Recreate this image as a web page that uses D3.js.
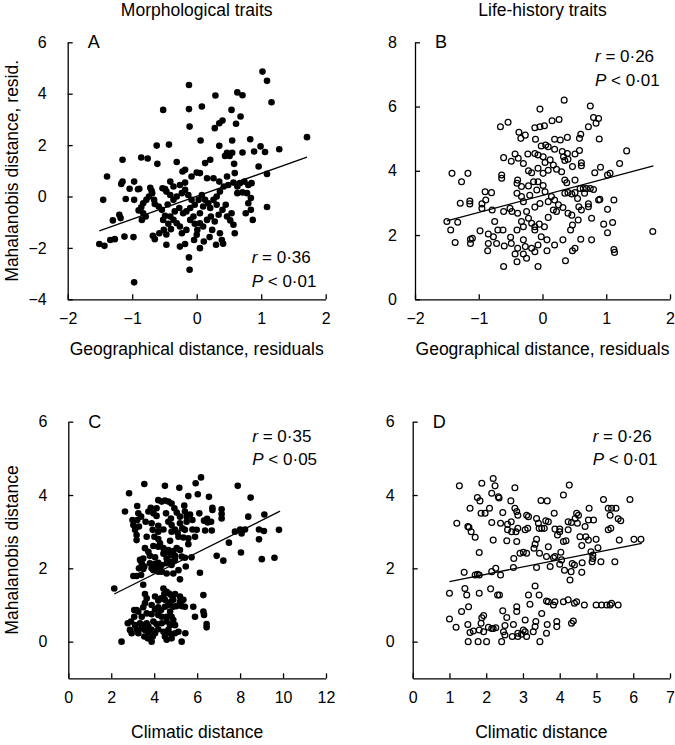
<!DOCTYPE html>
<html><head><meta charset="utf-8">
<script src="https://cdn.jsdelivr.net/npm/d3@7"></script>
<style>
body{margin:0;background:#fff}
svg text{font-family:"Liberation Sans",Arial,Helvetica,sans-serif;fill:#000}
</style>
</head><body>
<svg id="chart" width="675" height="745"></svg>
<script>
// ---------- DATA ----------
const columnTitles = ["Morphological traits", "Life-history traits"];
const panelLetters = ["A", "B", "C", "D"];
const xTitles = ["Geographical distance, residuals", "Geographical distance, residuals", "Climatic distance", "Climatic distance"];
const yTitles = ["Mahalanobis distance, resid.", "", "Mahalanobis distance", ""];
const statR = ["0·36", "0·26", "0·35", "0·26"];
const statP = ["0·01", "0·01", "0·05", "0·01"];

const xTicksA = [-2, -1, 0, 1, 2];
const yTicksA = [-4, -2, 0, 2, 4, 6];
const xTicksB = [-2, -1, 0, 1, 2];
const yTicksB = [0, 2, 4, 6, 8];
const xTicksC = [0, 2, 4, 6, 8, 10, 12];
const yTicksC = [0, 2, 4, 6];
const xTicksD = [0, 1, 2, 3, 4, 5, 6, 7];
const yTicksD = [0, 2, 4, 6];

const lineA = [[-1.51, -1.34], [1.71, 1.53]];
const lineB = [[-1.50, 2.44], [1.74, 4.15]];
const lineC = [[2.14, 1.30], [9.86, 3.56]];
const lineD = [[1.00, 1.64], [6.23, 2.68]];

const pointsA = [
[-0.12,4.34],[1.02,4.86],[1.09,4.50],[1.16,3.67],[0.29,3.93],[0.63,4.05],[0.71,3.94],[-0.52,3.37],[-0.12,3.40],[0.08,3.50],
[0.54,3.37],[-0.11,2.72],[0.68,3.11],[0.28,2.66],[0.35,2.85],[0.40,2.96],[0.61,2.83],[1.71,2.31],[0.83,2.23],[0.55,2.18],
[0.06,2.18],[0.35,1.97],[-0.43,2.02],[-0.62,1.98],[0.99,1.95],[0.55,1.70],[0.47,1.70],[0.71,1.71],[0.89,1.75],[1.06,1.73],[1.28,1.84],
[-0.86,1.52],[-0.76,1.48],[-1.15,1.43],[-0.61,1.27],[-0.31,1.34],[0.21,1.43],[0.13,1.30],[0.44,1.58],[0.51,1.58],[0.58,1.27],
[0.96,1.17],[-1.39,0.78],[-1.15,0.58],[-1.17,0.49],[-0.97,0.58],[1.09,0.88],[-0.18,1.04],
[-1.51,-1.85],[-1.43,-1.92],[-1.34,-1.69],[-1.27,-1.66],[-1.12,-1.56],[-0.98,-1.58],
[-1.45,-0.13],[-1.30,-0.93],[-1.20,-0.71],[-1.18,-0.84],[-1.10,-0.10],[-0.97,-0.13],[-1.04,0.30],[-0.89,0.30],
[-0.90,-0.54],[-0.86,-0.42],[-0.83,-0.26],[-0.78,-0.13],[-0.74,0],[-0.69,0.13],[-0.66,-0.13],[-0.65,-0.29],[-0.85,-0.91],[-0.79,-0.78],[-0.83,-0.65],
[-0.68,-1.53],[-0.65,-1.66],[-0.58,-1.43],[-0.51,-1.30],[-0.47,-1.48],[-0.52,-0.91],[-0.49,-0.75],[-0.53,0.32],[-0.49,0.29],[-0.59,-0.39],[-0.54,-0.52],[-0.45,-0.31],
[-0.47,-1.88],[-0.72,0.34],[-0.70,0.22],[-0.91,0.28],
[-0.26,-1.95],[-0.18,-1.85],[-0.12,-2.37],[-0.11,-2.85],[0.05,-2.01],[-0.04,-1.69],[0,-1.49],[0.11,-1.75],[0.20,-1.58],[0.30,-1.88],[0.39,-1.69],[0.41,-1.84],[0.24,-1.30],[0.36,-1.43],
[-0.36,-0.91],[-0.31,-1.04],[-0.26,-1.17],[-0.23,-1.43],[-0.16,-1.30],[-0.10,-0.91],[-0.05,-0.78],[-0.03,-1.06],[0.01,-1.30],[0.05,-1.04],[0.10,-1.17],[0.16,-0.91],[0.22,-0.78],[0.28,-0.97],[0.34,-0.71],[0.40,-0.52],[0.47,-0.78],[0.52,-0.93],[0.57,-1.10],[0.59,-1.43],[0.54,-0.65],[0.45,-0.32],
[-0.36,-0.13],[-0.31,0],[-0.23,0.13],[-0.18,0.26],[-0.13,0.06],[-0.08,-0.13],[-0.03,-0.32],[0.03,-0.13],[0.08,0.06],[0.13,-0.13],[0.18,-0.26],[0.26,-0.13],[0.31,0],[0.36,0.19],[0.42,0.39],[0.49,0.45],[0.57,0.54],[0.63,0.39],[0.67,0.52],[0.74,0.58],[0.80,0.45],[0.85,0.52],[0.78,0.13],[0.84,-0.06],[0.80,-0.26],[0.76,-0.65],[0.84,-0.52],[0.87,-0.91],[1.09,-0.41],[0.63,0.13],[0.71,0.16],
[0.59,0.91],[0.47,0.78],[0.35,0.58],[0.26,0.71],[0.16,0.71],[0.05,0.91],[0,0.93],[-0.08,0.78],[-0.18,0.54],[-0.26,0.45],[-0.41,0.58],[-0.36,0.39],[-0.41,0.06],[-0.47,0.19],[-0.22,0.97],
[-0.16,-0.58],[-0.10,-0.45],[-0.21,-0.65],[-0.27,-0.45],[-0.34,-0.58],[-0.41,-0.78],[-0.44,-1.06],[-0.40,-1.27],[0.05,-0.65],[0.10,-0.39],[0.21,-0.45],[0.31,-0.32],
[-0.97,-3.34]
];

const pointsB = [
[0.34,6.20],[-0.04,5.92],[0.75,6.02],[-0.54,5.51],[-0.66,5.37],[-0.12,5.34],[-0.04,5.37],[0.03,5.40],[0.15,5.56],[0.26,5.60],
[0.80,5.66],[0.88,5.63],[0.84,5.48],[0.72,5.37],[-0.37,5.20],[-0.27,5.11],[-0.34,5.01],[-0.11,4.98],[0.19,4.98],[0.28,4.96],
[0.39,5.04],[0.60,5.14],[0.58,5.01],[0.89,4.99],[-0.02,4.77],[0.05,4.80],[0.09,4.75],[0.19,4.67],[0.31,4.60],[0.39,4.54],
[0.51,4.52],[0.58,4.63],[1.32,4.62],[1.21,4.23],[-0.43,4.52],[-0.23,4.52],[-0.49,4.30],[-0.38,4.39],[-0.30,4.23],[-0.61,4.41],
[-0.12,4.54],[-0.07,4.49],[0.01,4.44],[0.04,4.26],[0.12,4.34],[0.17,4.18],[0.22,4.05],[0.33,4.44],[0.35,4.32],[0.40,4.36],
[0.47,4.13],[0.61,4.25],[0.61,4.16],[0.91,4.11],[-1.42,3.92],[-1.17,3.92],[-1.27,3.66],[-0.64,3.87],[-0.64,3.77],[-0.22,4.00],
[-0.17,3.94],[-0.07,4.08],[0.01,3.92],[0.09,4.02],[0.30,3.97],[0.35,3.71],[0.38,3.63],[0.51,3.71],[0.82,3.94],[1.02,3.87],
[1.06,3.92],[-0.39,3.71],[-0.40,3.61],[-0.33,3.51],[-0.22,3.53],[-0.14,3.66],[-0.07,3.66],[0.01,3.54],[-0.09,3.40],[0.04,3.35],
[-0.40,3.30],[-0.33,3.20],[-0.30,3.04],[-0.90,3.35],[-0.80,3.32],[-1.14,3.06],[-1.14,2.97],[-1.29,2.99],[-0.95,2.97],[-0.95,2.83],
[-0.89,3.09],[-0.79,2.78],[-0.51,2.83],[-0.48,2.73],[-0.39,2.68],[-0.25,2.73],[-0.20,3.24],[-0.12,2.87],[-0.04,2.98],[0.09,3.04],
[0.14,3.20],[0.19,3.09],[0.25,2.94],[0.32,2.86],[0.17,2.78],[0.22,2.73],[0.35,3.30],[0.40,3.32],[0.46,3.28],[0.51,3.32],
[0.55,3.14],[0.64,3.45],[0.69,3.45],[0.75,3.45],[0.80,3.42],[0.59,3.45],[0.66,3.30],[0.72,2.97],[0.72,2.88],[0.88,3.09],
[0.90,3.11],[1.12,3.09],[1.02,2.80],[0.57,2.88],[0.61,2.78],[0.46,2.62],[0.56,2.47],[0.77,2.52],[0.40,2.68],[-1.50,2.42],
[-1.33,2.40],[-1.44,2.16],[-0.61,2.73],[-0.75,2.42],[-0.70,2.16],[-0.62,2.16],[-0.98,2.13],[-0.85,2.03],[-0.77,1.95],[-0.72,1.74],
[-0.85,1.74],[-0.86,1.51],[-0.60,1.66],[-0.50,1.93],[-0.49,1.74],[-0.40,2.16],[-0.33,2.42],[-0.30,2.26],[-0.22,2.52],[-0.17,2.37],
[-0.12,2.26],[-0.05,2.34],[0.03,2.26],[0.09,2.55],[-0.02,1.95],[0.07,1.85],[-0.12,2.16],[-0.30,1.85],[-0.27,1.64],[-0.39,1.59],
[-0.17,1.59],[-0.12,1.48],[-0.07,1.69],[-0.30,1.41],[-0.43,1.41],[-0.25,1.28],[-0.40,1.17],[-0.07,1.02],[-0.61,1.02],[0.07,1.51],
[0.19,1.69],[0.32,1.85],[0.36,1.20],[0.47,1.51],[0.51,1.59],[0.44,2.16],[0.47,2.31],[0.60,1.87],[0.77,1.85],[0.96,2.34],
[1.10,2.39],[1.02,2.07],[1.73,2.11],[1.12,1.55],[1.13,1.46],[-1.13,1.87],[-1.13,1.74],[-1.10,1.90],[-1.37,1.77]
];

const pointsC = [
[2.14,1.45],[2.48,0],[2.83,4.05],[2.64,3.55],
[6.18,4.48],[5.93,4.32],[3.54,4.30],[4.50,4.25],[5.17,4.20],[5.59,3.97],[7.89,4.25],[8.49,3.93],[6.55,3.95],[6.03,4.02],
[4.19,3.86],[4.35,3.82],[4.50,3.85],[4.66,3.82],[4.81,3.77],[3.21,3.70],[3.84,3.65],[4.11,3.64],[4.94,3.64],[5.40,3.71],
[6.71,3.65],[6.71,3.59],[7.14,3.61],[7.14,3.48],[7.14,3.36],[3.26,3.50],[3.39,3.41],[2.99,3.32],[3.21,3.32],[3.03,3.18],
[3.29,3.14],[3.73,3.55],[3.96,3.50],[4.11,3.43],[4.55,3.50],[4.78,3.36],[5.05,3.52],[5.20,3.41],[5.43,3.55],[5.51,3.41],
[5.51,3.27],[5.67,3.47],[5.78,3.32],[6.10,3.50],[6.32,3.30],[6.46,3.35],[6.49,3.25],[6.65,3.27],[6.68,3.03],[8.38,3.41],
[9.13,3.47],[5.98,3.05],[6.37,3.03],[5.43,3.05],[5.78,3.06],[3.60,3.27],[3.88,3.23],[4.19,3.16],[4.66,3.27],[4.81,3.18],
[5.20,3.23],[5.31,3.09],[4.97,3.06],[4.81,3.00],[3.93,3.05],[4.19,3.00],[4.43,3.06],[5.09,2.97],[5.13,2.86],[5.36,2.84],
[5.59,2.82],[5.90,2.86],[7.76,3.00],[8.00,3.06],[8.23,3.06],[8.07,2.95],[8.88,3.06],[9.11,3.02],[9.81,3.05],[8.88,2.79],
[7.48,2.70],[3.11,3.05],[3.18,2.91],[3.18,2.77],[4.01,2.86],[4.19,2.80],[3.65,2.86],[4.27,2.68],[4.74,2.75],[5.59,2.66],
[3.57,2.55],[3.73,2.45],[3.96,2.61],[4.19,2.59],[4.43,2.55],[4.66,2.50],[4.66,2.43],[4.89,2.47],[5.05,2.55],[5.20,2.50],
[5.28,2.32],[5.43,2.29],[5.74,2.30],[6.91,2.34],[7.22,2.21],[8.04,2.43],[9.01,2.25],[9.60,2.29],[3.49,2.27],[3.34,2.23],
[3.80,2.34],[4.04,2.30],[4.43,2.40],[4.58,2.27],[4.81,2.36],[4.97,2.34],[4.19,2.15],[4.35,2.09],[4.58,2.14],[4.74,2.18],
[3.42,2.14],[3.54,2.05],[3.80,2.14],[4.01,2.12],[4.11,2.05],[4.27,2.00],[3.29,2.00],[3.49,1.98],[4.81,2.09],[4.97,2.23],
[5.47,2.05],[6.13,1.88],[3.39,1.82],[3.03,1.79],[3.18,1.79],[3.96,1.95],[4.19,1.91],[3.88,2.00],[4.35,1.91],[4.58,1.86],
[4.89,1.86],[5.13,1.95],[5.20,1.70],[3.49,1.55],
[3.57,1.30],[3.65,1.18],[4.43,1.45],[4.58,1.36],[4.47,1.30],[4.69,1.31],[4.81,1.25],[4.97,1.30],[4.32,1.18],[4.50,1.14],
[4.04,1.23],[4.19,1.12],[4.78,1.09],[4.89,1.14],[5.20,1.23],[5.36,1.14],[5.20,1.09],[6.29,1.27],[5.82,0.95],[3.57,1.05],
[3.49,0.94],[3.88,1.00],[4.04,0.88],[4.19,0.94],[4.32,0.86],[4.50,0.95],[4.66,1.00],[4.89,0.95],[5.05,0.97],[5.28,0.97],
[5.43,0.95],[4.74,0.82],[4.81,0.68],[6.29,0.82],[6.32,0.73],[5.90,0.68],[3.07,0.86],[3.18,0.86],[3.26,0.82],[3.07,0.68],
[3.42,0.68],[3.65,0.77],[3.88,0.75],[4.19,0.73],[4.35,0.68],[4.58,0.68],[2.77,0.50],[2.92,0.55],[3.11,0.45],[3.34,0.50],
[3.49,0.45],[3.65,0.50],[3.73,0.41],[3.96,0.55],[4.11,0.48],[4.35,0.50],[4.58,0.55],[4.74,0.45],[4.89,0.59],[4.97,0.45],
[6.44,0.48],[6.44,0.39],[2.87,0.32],[2.95,0.23],[3.18,0.34],[3.26,0.23],[3.42,0.36],[3.57,0.32],[3.73,0.25],[3.88,0.32],
[4.04,0.23],[4.19,0.34],[4.43,0.27],[4.58,0.23],[4.66,0.32],[4.81,0.21],[4.97,0.23],[5.13,0.27],[5.45,0.23],[3.54,0.14],
[3.70,0.09],[3.93,0.14],[3.88,0.00],[4.50,0.14],[4.58,0.05],[4.81,0.09],[5.28,0.00]
];

const pointsD = [
[1.00,1.32],[1.00,0.62],[1.20,3.23],[1.18,0.39],[1.27,4.25],[1.33,0.82],[1.40,1.89],[1.42,1.45],[1.47,1.27],[1.50,3.14],
[1.53,3.12],[1.50,0.47],[1.52,0.95],[1.51,0],[1.56,0.25],[1.65,0.29],[1.56,3.64],[1.59,3.00],[1.70,2.85],[1.70,1.82],
[1.76,1.84],[1.81,1.82],[1.76,3.93],[1.83,3.84],[1.81,2.43],[1.81,1.32],[1.88,4.32],[1.86,3.50],[1.97,3.50],[1.81,0.32],
[1.86,0.50],[1.88,0.65],[1.93,0.71],[1.93,0.27],[1.78,0],[2.01,0],[2.06,0.39],[2.15,0.36],[2.19,0.36],[2.26,0.38],
[2.09,3.64],[2.15,4.05],[2.19,4.45],[2.24,4.25],[2.12,1.44],[2.15,1.91],[2.15,3.25],[2.19,2.77],[2.26,2.00],[2.31,1.27],
[2.36,1.27],[2.33,3.95],[2.35,3.92],[2.39,1.82],[2.39,3.23],[2.42,0],[2.45,3.52],[2.45,0.84],[2.47,0.27],[2.51,0.18],
[2.51,0.44],[2.56,0.66],[2.56,2.75],[2.58,3.20],[2.58,3.05],[2.67,3.84],[2.68,3.27],[2.69,3.00],[2.74,0.47],[2.71,0.14],
[2.74,2.02],[2.75,2.27],[2.78,4.20],[2.78,3.64],[2.83,3.55],[2.86,3.45],[2.81,3.00],[2.86,3.09],[2.83,2.73],[2.83,0.95],
[2.83,0.82],[2.86,0.23],[2.86,0.14],[2.92,2.41],[2.96,0.20],[3.01,0.32],[3.06,0.27],[3.01,2.44],[3.10,2.41],[3.06,0.59],
[3.10,3.45],[3.15,3.41],[3.06,3.05],[3.13,3.09],[3.15,1.27],[3.19,1.02],[3.10,0.14],[3.28,0.27],[3.33,0.41],[3.30,2.55],
[3.33,2.66],[3.33,1.52],[3.37,3.36],[3.42,3.23],[3.44,3.09],[3.35,0.55],[3.37,2.02],[3.37,2.79],[3.44,1.27],[3.45,2.41],
[3.46,0],[3.51,0.77],[3.49,3.85],[3.66,3.84],[3.51,3.09],[3.58,3.09],[3.62,3.30],[3.69,3.27],[3.64,2.32],[3.64,1.11],
[3.69,1.09],[3.64,0.23],[3.66,0.47],[3.69,2.59],[3.74,2.05],[3.83,1.00],[3.83,2.29],[3.87,2.32],[3.87,1.09],[3.85,3.50],
[3.87,3.07],[3.92,0.55],[3.92,0.41],[3.94,2.91],[4.00,3.07],[4.00,3.00],[4.00,2.11],[4.05,2.23],[4.03,2.44],[4.10,4.00],
[4.10,1.09],[4.10,2.73],[4.13,1.95],[4.17,2.75],[4.23,1.14],[4.23,3.27],[4.23,3.05],[4.26,4.27],[4.28,1.68],[4.31,1.91],
[4.32,3.25],[4.32,0.50],[4.34,2.13],[4.40,2.09],[4.37,0.56],[4.40,1.05],[4.46,1.09],[4.42,3.36],[4.46,3.50],[4.51,3.45],
[4.48,3.23],[4.55,2.86],[4.60,2.62],[4.60,1.89],[4.61,2.15],[4.67,1.00],[4.69,3.14],[4.71,2.86],[4.78,3.32],[4.92,3.32],
[4.80,3.64],[4.78,2.77],[4.85,2.45],[4.90,2.36],[4.90,2.27],[4.88,2.18],[4.99,1.00],[5.14,1.00],[5.28,1.00],[4.99,2.79],
[5.04,2.56],[5.12,2.18],[5.19,3.88],[5.32,3.64],[5.41,3.64],[5.32,3.05],[5.39,3.09],[5.37,3.45],[5.37,1.00],[5.41,1.05],
[5.50,2.18],[5.53,3.64],[5.59,1.00],[5.59,3.35],[5.66,3.30],[5.62,2.77],[5.91,3.88],[6.02,2.79],[6.21,2.79]
];

// ---------- LAYOUT ----------
const svg = d3.select("#chart");
const FONT = "'Liberation Sans', Arial, Helvetica, sans-serif";
const fmt = d => d < 0 ? "\u2212" + Math.abs(d) : String(d);

const panels = [
  {pts: pointsA, line: lineA, filled: true, xd: [-2, 2], yd: [-4, 6], xt: xTicksA, yt: yTicksA,
   left: 67.7, right: 325.7, top: 42.3, bottom: 299.3, ypad: 21},
  {pts: pointsB, line: lineB, filled: false, xd: [-2, 2], yd: [0, 8], xt: xTicksB, yt: yTicksB,
   left: 415, right: 670, top: 42.3, bottom: 299.3, ypad: 18},
  {pts: pointsC, line: lineC, filled: true, xd: [0, 12], yd: [-1, 6], xt: xTicksC, yt: yTicksC,
   left: 68.3, right: 326, top: 421.7, bottom: 678.3, ypad: 21},
  {pts: pointsD, line: lineD, filled: false, xd: [0, 7], yd: [-1, 6], xt: xTicksD, yt: yTicksD,
   left: 412.7, right: 670, top: 421.7, bottom: 678.3, ypad: 18}
];

panels.forEach((p, i) => {
  const x = d3.scaleLinear().domain(p.xd).range([p.left, p.right]);
  const y = d3.scaleLinear().domain(p.yd).range([p.bottom, p.top]);
  const g = svg.append("g");

  const gx = g.append("g").attr("transform", `translate(0,${p.bottom})`)
    .call(d3.axisBottom(x).tickValues(p.xt).tickFormat(fmt).tickSizeInner(-5).tickSizeOuter(0).tickPadding(13));
  const gy = g.append("g").attr("transform", `translate(${p.left},0)`)
    .call(d3.axisLeft(y).tickValues(p.yt).tickFormat(fmt).tickSizeInner(-5).tickSizeOuter(0).tickPadding(p.ypad));
  [gx, gy].forEach(a => {
    a.attr("font-family", FONT).attr("font-size", 16);
    a.selectAll("path,line").attr("stroke", "#000").attr("stroke-width", 1.3);
    a.selectAll("text").attr("fill", "#000");
  });

  g.append("line")
    .attr("x1", x(p.line[0][0])).attr("y1", y(p.line[0][1]))
    .attr("x2", x(p.line[1][0])).attr("y2", y(p.line[1][1]))
    .attr("stroke", "#000").attr("stroke-width", 1.3);

  g.append("g").selectAll("circle").data(p.pts).join("circle")
    .attr("cx", d => x(d[0])).attr("cy", d => y(d[1]))
    .attr("r", p.filled ? 3.3 : 2.9)
    .attr("fill", p.filled ? "#000" : "none")
    .attr("stroke", "#000").attr("stroke-width", p.filled ? 0 : 1.25);

  g.append("text").attr("x", p.left + 20).attr("y", p.top + 6)
    .attr("font-size", 18).text(panelLetters[i]);

  const sx = i % 2 === 0 ? p.left + 184 : p.left + 180;
  const sy1 = i === 0 ? 263 : p.top + 20;
  const r = g.append("text").attr("x", sx).attr("y", sy1).attr("font-size", 17);
  r.append("tspan").attr("font-style", "italic").text("r");
  r.append("tspan").text(" = " + statR[i]);
  const pt = g.append("text").attr("x", sx).attr("y", sy1 + 23.5).attr("font-size", 17);
  pt.append("tspan").attr("font-style", "italic").text("P");
  pt.append("tspan").text(" < " + statP[i]);

  g.append("text").attr("x", (p.left + p.right) / 2).attr("y", i < 2 ? 355 : 738)
    .attr("text-anchor", "middle").attr("font-size", 17.5).text(xTitles[i]);

  if (yTitles[i]) {
    g.append("text")
      .attr("transform", `translate(18,${(p.top + p.bottom) / 2}) rotate(-90)`)
      .attr("text-anchor", "middle").attr("font-size", 17.5).text(yTitles[i]);
  }

  if (i < 2) {
    g.append("text").attr("x", (p.left + p.right) / 2).attr("y", 16)
      .attr("text-anchor", "middle").attr("font-size", 17.5).text(columnTitles[i]);
  }
});
</script>
</body></html>
